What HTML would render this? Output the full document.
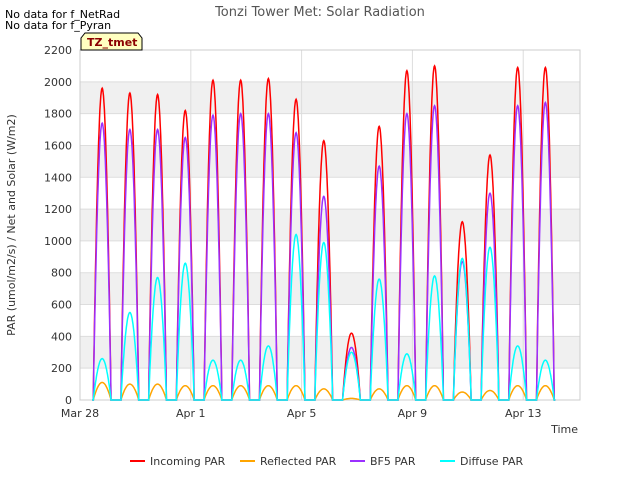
<!DOCTYPE html>
<html><head><meta charset="utf-8"><style>
body{margin:0;width:640px;height:480px;background:#fff;font-family:"DejaVu Sans","Liberation Sans",sans-serif;overflow:hidden}
</style></head><body>
<svg id="c" width="640" height="480" xmlns="http://www.w3.org/2000/svg" font-family="DejaVu Sans, Liberation Sans, sans-serif">
<text x="320" y="16" text-anchor="middle" font-size="13" fill="#555">Tonzi Tower Met: Solar Radiation</text>
<text x="5" y="18" font-size="11" fill="#000">No data for f_NetRad</text>
<text x="5" y="29" font-size="11" fill="#000">No data for f_Pyran</text>
<g id="plot"></g>
<g><path d="M81,50 L81,38 L85,33 L138,33 L142,38 L142,50 Z" fill="#ffffc0" stroke="#000"/>
<text x="87" y="46" font-size="11" font-weight="bold" fill="#8b0000">TZ_tmet</text></g>
<text x="15" y="225" font-size="11" fill="#333" transform="rotate(-90 15 225)" text-anchor="middle">PAR (umol/m2/s) / Net and Solar (W/m2)</text>
<text x="578" y="433" font-size="11" fill="#333" text-anchor="end">Time</text>
<g id="legend"></g>
</svg>
<script>
const yTicks=[0,200,400,600,800,1000,1200,1400,1600,1800,2000,2200];
const xTickLabels=["Mar 28","Apr 1","Apr 5","Apr 9","Apr 13"];
const xTickDays=[0,4,8,12,16];
const incoming=[1960,1930,1920,1820,2010,2010,2020,1890,1630,420,1720,2070,2100,1120,1540,2090,2090];
const reflected=[110,100,100,90,90,90,90,90,70,10,70,90,90,50,60,90,90];
const bf5=[1740,1700,1700,1650,1790,1800,1800,1680,1280,330,1470,1800,1850,870,1300,1850,1870];
const diffuse=[260,550,770,860,250,250,340,1040,990,300,760,290,780,890,960,340,250];
const NS="http://www.w3.org/2000/svg";
const X0=80,X1=580,Y0=400,Y1=50,DMAX=18.05;
const xs=d=>X0+d/DMAX*(X1-X0);
const ys=v=>Y0-v/2200*(Y0-Y1);
const plot=document.getElementById('plot');
function mk(t,a,p){const e=document.createElementNS(NS,t);for(const k in a)e.setAttribute(k,a[k]);(p||plot).appendChild(e);return e;}
for(let i=0;i<yTicks.length-1;i++){if(i%2==1){const r=mk('rect',{x:X0,y:ys(yTicks[i+1]),width:X1-X0,height:ys(yTicks[i])-ys(yTicks[i+1]),fill:'#f0f0f0'});

}}
yTicks.forEach(v=>{const l=mk('line',{x1:X0,x2:X1,y1:ys(v),y2:ys(v),stroke:'#ddd'});


const t=mk('text',{x:X0-8,y:ys(v)+4,'text-anchor':'end','font-size':11,fill:'#333'});t.textContent=v;

});
xTickDays.forEach((d,i)=>{const l=mk('line',{x1:xs(d),x2:xs(d),y1:Y1,y2:Y0,stroke:'#ddd'});


const t=mk('text',{x:xs(d),y:417,'text-anchor':'middle','font-size':11,fill:'#333'});t.textContent=xTickLabels[i];

});
const fr=mk('rect',{x:X0,y:Y1,width:X1-X0,height:Y0-Y1,fill:'none',stroke:'#ccc'});


function series(arr,color,name){let pts=[];
arr.forEach((pk,d)=>{const c=d+0.8,h=0.32;pts.push([xs(c-h-0.04),ys(0)]);
for(let k=-20;k<=20;k++){const s=k/20;const f=Math.pow(Math.max(0,Math.cos(s*Math.PI/2)),0.9);pts.push([xs(c+s*h),ys(pk*f)]);}
pts.push([xs(c+h+0.04),ys(0)]);});
const p=mk('polyline',{points:pts.map(q=>q[0].toFixed(1)+','+q[1].toFixed(1)).join(' '),fill:'none',stroke:color,'stroke-width':1.5});

}
series(incoming,'#ff0000','incoming-par-line');
series(reflected,'#ffa500','reflected-par-line');
series(bf5,'#9b30ff','bf5-par-line');
series(diffuse,'#00ffff','diffuse-par-line');
const lg=document.getElementById('legend');
[['Incoming PAR','#ff0000',130],['Reflected PAR','#ffa500',240],['BF5 PAR','#9b30ff',350],['Diffuse PAR','#00ffff',440]].forEach(([n,c,x])=>{
const g=mk('g',{},lg);


mk('line',{x1:x,x2:x+15,y1:461,y2:461,stroke:c,'stroke-width':2},g);
const t=mk('text',{x:x+20,y:465,'font-size':11,fill:'#333'},g);t.textContent=n;});
</script>
</body></html>
